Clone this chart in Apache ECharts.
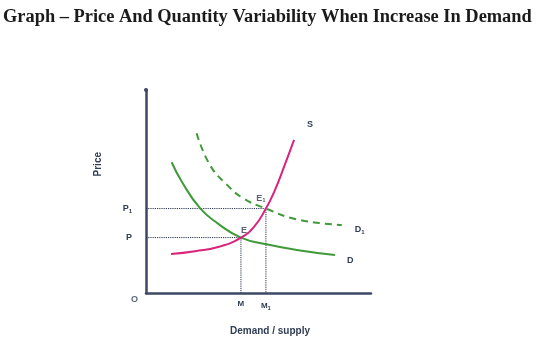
<!DOCTYPE html>
<html><head><meta charset="utf-8">
<script src="https://cdn.jsdelivr.net/npm/echarts@6/dist/echarts.min.js"></script>
<style>html,body{margin:0;padding:0;background:#fff}#c{width:539px;height:338px}</style>
</head><body><div id="c"></div>
<script>
// Curves (quantity, price), axis range 0..100
const supplyS = [[11.1,19.2],[21.8,20.6],[32.9,22.9],[42.2,27.3],[48,32.6],[53.3,41.6],[57.3,50.7],[61.3,62],[65.8,75.4]];
const demandD = [[11.4,64.4],[16,54.7],[24,41.8],[32,34.2],[42.2,27.3],[53.6,24],[67,21.2],[84,18.7]];
const demandD1 = [[22.5,78.7],[28.4,63.1],[35.9,53.4],[43.2,46.7],[53.3,41.6],[67,36.3],[87,33.5]];
// Equilibria
const eqE = [42.2, 27.3];
const eqE1 = [53.3, 41.6];
const priceTicks = [eqE[1], eqE1[1]];
const priceTickLabels = ['P', 'P{s|1}'];
const qtyTicks = [eqE[0], eqE1[0]];
const qtyTickLabels = ['M', 'M{s|1}'];

const labCol = '#2f3d52';
const lblFont = {fontFamily:'Liberation Sans, Arial', fontWeight:'bold', fontSize:9, color:labCol};
const rich = {s:{fontFamily:'Liberation Sans', fontWeight:'bold', fontSize:6, color:labCol, padding:[5,0,0,0]}};
const axisCol = '#3d4863';
const green = '#3f9a3a';
const pink = '#d8247c';

const chart = echarts.init(document.getElementById('c'), null, {renderer:'canvas'});
chart.setOption({
  animation:false,
  title:{text:'Graph \u2013 Price And Quantity Variability When Increase In Demand', left:3, top:8, padding:0,
    textStyle:{fontFamily:'Liberation Serif', fontWeight:'bold', fontSize:18.4, color:'#1b1b1b'}},
  grid:{left:146, top:90, width:225, height:203},
  xAxis:{type:'value', min:0, max:100, splitLine:{show:false},
    axisLine:{show:true, onZero:false, lineStyle:{color:axisCol, width:2.5}},
    axisTick:{show:false},
    axisLabel:{customValues:qtyTicks, margin:7,
      formatter:(v)=> qtyTickLabels[qtyTicks.indexOf(v)] || '', ...lblFont, fontSize:8, rich:rich}},
  yAxis:{type:'value', min:0, max:100, splitLine:{show:false},
    axisLine:{show:true, onZero:false, symbol:['none','circle'], symbolSize:[4,4], lineStyle:{color:axisCol, width:2.5}},
    axisTick:{show:false},
    axisLabel:{customValues:priceTicks, margin:14,
      formatter:(v)=> priceTickLabels[priceTicks.indexOf(v)] || '', ...lblFont, rich:rich}},
  graphic:[
    {type:'text', left:93, top:152, rotation:Math.PI/2, style:{text:'Price', fill:labCol, font:'bold 10px Liberation Sans'}},
    {type:'text', left:230, top:326, style:{text:'Demand / supply', fill:labCol, font:'bold 10px Liberation Sans'}}
  ],
  series:[
    {type:'line', data:[[0,eqE[1]],eqE,[eqE[0],0]], symbol:'none', silent:true,
      lineStyle:{color:'#2a3550', width:1, type:[1.2,1]}},
    {type:'line', data:[[0,eqE1[1]],eqE1,[eqE1[0],0]], symbol:'none', silent:true,
      lineStyle:{color:'#2a3550', width:1, type:[1.2,1]}},
    {type:'line', name:'D', data:demandD, smooth:true, symbol:'none',
      lineStyle:{color:green, width:2},
      endLabel:{show:true, formatter:'D', offset:[4,5], ...lblFont}},
    {type:'line', name:'D1', data:demandD1, smooth:true, symbol:'none',
      lineStyle:{color:green, width:2, type:[7,5]},
      endLabel:{show:true, formatter:'D{s|1}', offset:[5,5], ...lblFont, rich:rich}},
    {type:'line', name:'S', data:supplyS, smooth:true, symbol:'none',
      lineStyle:{color:pink, width:2},
      endLabel:{show:true, formatter:'S', offset:[5,-15], ...lblFont}},
    {type:'scatter', symbolSize:0, silent:true,
      data:[{value:eqE, label:{formatter:'E', offset:[3,0]}},
            {value:eqE1, label:{formatter:'E{s|1}', offset:[-5,-2]}},
            {value:[0,0], label:{formatter:'O', position:'left', offset:[-5,7]}}],
      label:{show:true, position:'top', distance:3, ...lblFont, rich:rich}}
  ]
});
</script></body></html>
